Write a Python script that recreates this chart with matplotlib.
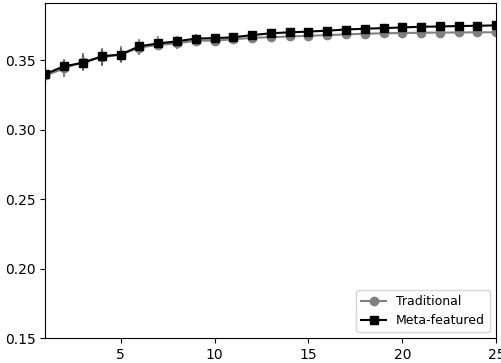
import matplotlib
matplotlib.use("Agg")
import matplotlib.pyplot as plt
from matplotlib.lines import Line2D
import numpy as np

k = list(range(1, 26))
traditional = [0.339, 0.344, 0.349, 0.352, 0.354, 0.359, 0.361, 0.362, 0.364, 0.364,
               0.365, 0.366, 0.3665, 0.367, 0.3675, 0.368, 0.3685, 0.369, 0.3693, 0.3695,
               0.3697, 0.3698, 0.3699, 0.370, 0.370]
trad_err = [0.006, 0.006, 0.006, 0.006, 0.005, 0.005, 0.004, 0.004, 0.003, 0.003,
            0.003, 0.003, 0.002, 0.002, 0.002, 0.002, 0.002, 0.002, 0.002, 0.002,
            0.002, 0.002, 0.002, 0.002, 0.002]
meta = [0.340, 0.3457, 0.348, 0.3528, 0.354, 0.360, 0.362, 0.3635, 0.3655, 0.3658,
        0.3664, 0.368, 0.3693, 0.370, 0.3705, 0.3712, 0.372, 0.3726, 0.373, 0.3735,
        0.374, 0.3742, 0.3745, 0.3747, 0.375]
meta_err = [0.006, 0.005, 0.006, 0.006, 0.006, 0.005, 0.005, 0.004, 0.003, 0.003,
            0.003, 0.003, 0.002, 0.002, 0.002, 0.002, 0.002, 0.002, 0.002, 0.002,
            0.002, 0.002, 0.002, 0.002, 0.002]

fig = plt.figure(figsize=(5.02, 3.63), dpi=100)
ax = fig.add_axes([0.0906, 0.0675, 0.898, 0.924])

ax.errorbar(k, traditional, yerr=trad_err, color='gray', marker='o', markersize=6,
            ecolor='gray', elinewidth=1.5)
ax.errorbar(k, meta, yerr=meta_err, color='black', marker='s', markersize=6,
            ecolor=(0.3, 0.3, 0.3, 0.6), elinewidth=1.5)

handles = [Line2D([], [], color='gray', marker='o', markersize=6, label='Traditional'),
           Line2D([], [], color='black', marker='s', markersize=6, label='Meta-featured')]

ax.set_xlim(1, 25)
ax.set_ylim(0.15, 0.391)
ax.set_xticks([5, 10, 15, 20, 25])
ax.set_yticks([0.15, 0.20, 0.25, 0.30, 0.35])
ax.set_yticklabels(['0.15', '0.20', '0.25', '0.30', '0.35'])
ax.legend(handles=handles, loc='lower right', fontsize=9)

fig.savefig('out.png', dpi=100)
